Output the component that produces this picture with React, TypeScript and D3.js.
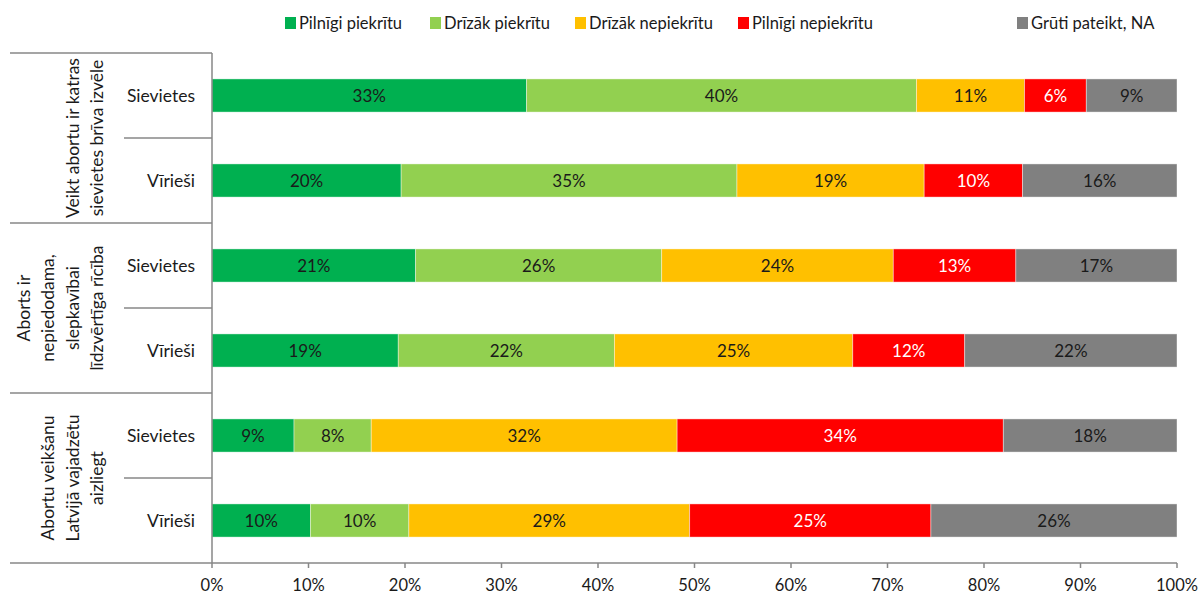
import React from "react";
import * as d3 from "d3";

const seriesNames = ["Pilnīgi piekrītu", "Drīzāk piekrītu", "Drīzāk nepiekrītu", "Pilnīgi nepiekrītu", "Grūti pateikt, NA"];
const seriesColors = ["#00B050", "#92D050", "#FFC000", "#FF0000", "#808080"];
const labelColors = ["#1a1a1a", "#1a1a1a", "#1a1a1a", "#ffffff", "#1a1a1a"];

const groups = [
  ["Veikt abortu ir katras", "sievietes brīva izvēle"],
  ["Aborts ir", "nepiedodama,", "slepkavībai", "līdzvērtīga rīcība"],
  ["Abortu veikšanu", "Latvijā vajadzētu", "aizliegt"],
];
const subCats = ["Sievietes", "Vīrieši"];

// values in %, rows: group1 S, group1 V, group2 S, group2 V, group3 S, group3 V
const pilnigiPiekritu = [32.6, 19.6, 21.1, 19.3, 8.5, 10.2];
const drizakPiekritu = [40.4, 34.8, 25.5, 22.4, 8.0, 10.2];
const drizakNepiekritu = [11.2, 19.4, 24.0, 24.7, 31.7, 29.1];
const pilnigiNepiekritu = [6.4, 10.2, 12.7, 11.6, 33.8, 25.0];
const grutiPateikt = [9.4, 16.0, 16.7, 22.0, 18.0, 25.5];

const xTicks = [0, 10, 20, 30, 40, 50, 60, 70, 80, 90, 100];

const FONT = "Lato, 'Open Sans', sans-serif";

export default function App() {
  const W = 1201, H = 597;
  const left = 212, right = 1177, top = 53, bottom = 563;
  const series = [pilnigiPiekritu, drizakPiekritu, drizakNepiekritu, pilnigiNepiekritu, grutiPateikt];
  const rows = d3.range(6);
  const x = d3.scaleLinear().domain([0, 100]).range([left, right]);
  const y = d3.scaleBand<number>().domain(rows).range([top, bottom]).paddingInner(0.61).paddingOuter(0.305);
  const step = y.step();
  const stacked = rows.map((r) => {
    let acc = 0;
    return series.map((s, i) => {
      const x0 = acc;
      acc += s[r];
      return { x0, x1: acc, v: s[r], i };
    });
  });
  const legendX = [285, 430, 575, 738, 1017];
  const axisColor = "#878787";

  return (
    <svg width={W} height={H} style={{ display: "block", position: "absolute", left: 0, top: 0 }} fontFamily={FONT}>
      <rect width={W} height={H} fill="#fff" />
      {/* legend */}
      {seriesNames.map((n, i) => (
        <g key={n}>
          <rect x={legendX[i]} y={17} width={11} height={12} fill={seriesColors[i]} />
          <text x={legendX[i] + 14} y={29} fontSize={16.5} fill="#1a1a1a">{n}</text>
        </g>
      ))}
      {/* bars */}
      {rows.map((r) =>
        stacked[r].map((seg) => {
          const x0 = x(seg.x0), x1 = x(seg.x1);
          const yy = y(r)!;
          return (
            <g key={r + "-" + seg.i}>
              <rect x={x0} y={yy} width={x1 - x0} height={y.bandwidth()} fill={seriesColors[seg.i]} stroke="#ffffff" strokeOpacity={0.5} strokeWidth={0.8} />
              <text x={(x0 + x1) / 2} y={yy + y.bandwidth() / 2 + 6} textAnchor="middle" fontSize={17} fill={labelColors[seg.i]}>
                {Math.round(seg.v) + "%"}
              </text>
            </g>
          );
        })
      )}
      {/* category labels */}
      {rows.map((r) => (
        <text key={"c" + r} x={195} y={y(r)! + y.bandwidth() / 2 + 6} textAnchor="end" fontSize={17.5} fill="#1a1a1a">
          {subCats[r % 2]}
        </text>
      ))}
      {/* group separators */}
      {[0, 1, 2, 3].map((g) => (
        <line key={"gs" + g} x1={10} x2={left} y1={top + g * 2 * step} y2={top + g * 2 * step} stroke={axisColor} strokeWidth={1.5} />
      ))}
      {[0, 1, 2].map((g) => (
        <line key={"ss" + g} x1={124} x2={left} y1={top + (g * 2 + 1) * step} y2={top + (g * 2 + 1) * step} stroke={axisColor} strokeWidth={1.5} />
      ))}
      {/* group labels */}
      {groups.map((lines, g) => {
        const cy = top + (g * 2 + 1) * step;
        const n = lines.length;
        return (
          <text key={"g" + g} transform={`translate(0,${cy}) rotate(-90)`} textAnchor="middle" fontSize={17.5} fill="#1a1a1a">
            {lines.map((l, k) => (
              <tspan key={k} x={0} y={103 - (n - 1 - k) * 24.5}>{l}</tspan>
            ))}
          </text>
        );
      })}
      {/* axes */}
      <line x1={left} x2={left} y1={top} y2={bottom} stroke={axisColor} strokeWidth={1.5} />
      <line x1={left} x2={right} y1={bottom} y2={bottom} stroke={axisColor} strokeWidth={1.5} />
      {xTicks.map((t) => (
        <g key={"t" + t}>
          <line x1={x(t)} x2={x(t)} y1={bottom} y2={bottom + 5} stroke={axisColor} strokeWidth={1.5} />
          <text x={x(t)} y={bottom + 28} textAnchor="middle" fontSize={16.5} fill="#1a1a1a">{t + "%"}</text>
        </g>
      ))}
    </svg>
  );
}
